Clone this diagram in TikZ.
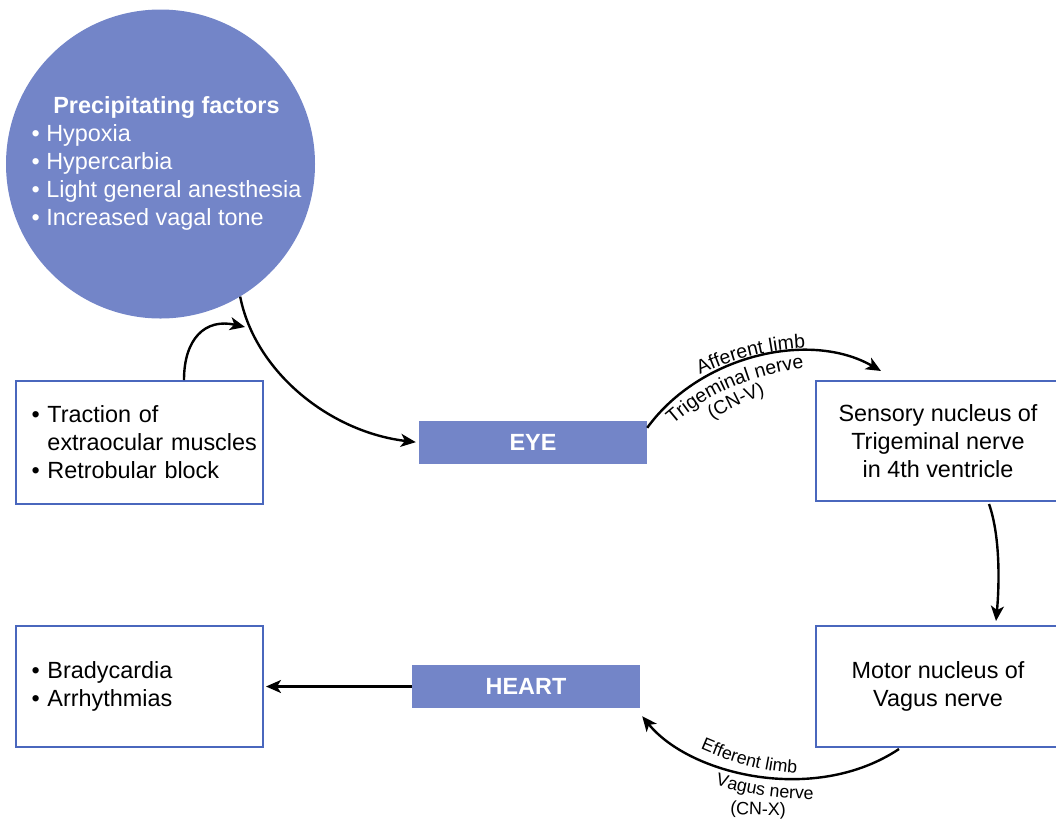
\documentclass[tikz,border=0pt]{standalone}
\usepackage{fontspec}
\setmainfont{Liberation Sans}
\usetikzlibrary{arrows.meta,decorations.text}
\definecolor{fillblue}{HTML}{7385C8}
\definecolor{lineblue}{HTML}{4A67BD}
\newcommand{\bodysize}{\fontsize{23.4}{28}\selectfont}
\begin{document}
\begin{tikzpicture}[x=1pt,y=-1pt,
  box/.style={draw=lineblue, line width=2pt, fill=white, inner sep=0pt,
    font=\bodysize, align=center},
  listbox/.style={box, minimum width=247pt, text width=216pt, align=left},
  organ/.style={fill=fillblue, minimum width=228pt, minimum height=43pt,
    inner sep=0pt, text=white, font=\bodysize\bfseries},
  arrow/.style={-{Stealth[length=15pt,width=13pt,inset=4pt]}, line width=2.4pt},
  % curved label set on its own baseline path: size, text
  limb/.style 2 args={decorate, decoration={text along path, text align=center,
    text={|\fontsize{#1}{#1}\selectfont|#2}}},
]
\useasboundingbox (0,0) rectangle (1056,820);
\clip (0,0) rectangle (1056,820);

% risk factors
\node[circle, fill=fillblue, minimum size=309pt, inner sep=-8pt, text=white,
  font=\bodysize] (pf) at (160.5,164)
  {\begin{tabular}{@{\hspace{12pt}}l@{}}
   \multicolumn{1}{@{\hspace{12pt}}c@{}}{\bfseries Precipitating factors}\\
   \textbullet\ Hypoxia\\
   \textbullet\ Hypercarbia\\
   \textbullet\ Light general anesthesia\\
   \textbullet\ Increased vagal tone
   \end{tabular}};

% triggers and effects
\node[listbox, minimum height=123pt] (trig) at (139.5,442.5)
  {\mbox{\textbullet\ Traction of}\\
   \mbox{\phantom{\textbullet\ }extraocular muscles}\\
   \mbox{\textbullet\ Retrobular block}};
\node[listbox, minimum height=121pt] (eff) at (139.5,686.5)
  {\mbox{\textbullet\ Bradycardia}\\
   \mbox{\textbullet\ Arrhythmias}};

% organs
\node[organ] (eye) at (533,442.5) {EYE};
\node[organ] (heart) at (526,686.5) {HEART};

% brainstem nuclei
\node[box, minimum width=244pt, minimum height=120pt] (sens) at (938,441)
  {Sensory nucleus of\\Trigeminal nerve\\in 4th ventricle};
\node[box, minimum width=244pt, minimum height=121pt] (mot) at (938,686.5)
  {Motor nucleus of\\Vagus nerve};

% connectors
\coordinate (trigend) at (245,327);
\draw[arrow] ([xshift=169pt]trig.north west)
  .. controls +(0,-41) and +(-40,-9) .. (trigend);
\draw[arrow, shorten >=3pt] (pf.-59)
  .. controls (255,372) and (330,432) .. (eye.west);

% afferent limb
\coordinate (aff0) at ([yshift=-7pt]eye.north east);
\coordinate (aff1) at ([xshift=66pt,yshift=9pt]sens.north west);
\draw[arrow] (aff0) .. controls (700,355) and (810,330) .. (aff1);
\path[limb={19.5}{Afferent limb}]
  (693,378) .. controls (725,362) and (765,349) .. (813,348);
\path[limb={19.5}{Trigeminal nerve}]
  (666,431) .. controls (700,400) and (740,375) .. (813,367);
\path[limb={19}{(CN-V)}]
  (707,423) .. controls (728,410) and (748,400) .. (771,392);

% nucleus to nucleus
\draw[arrow] ([xshift=174pt,yshift=-2pt]sens.south west)
  .. controls +(12,34) and +(3,-32) .. ([xshift=181pt,yshift=4pt]mot.north west);

% efferent limb
\coordinate (eff0) at ([xshift=2pt,yshift=-8pt]heart.south east);
\coordinate (eff1) at ([xshift=84pt,yshift=-1pt]mot.south west);
\draw[arrow] (eff1) .. controls (815,805) and (690,775) .. (eff0);
\path[limb={17.8}{Efferent limb}]
  (692,745) .. controls (728,762) and (765,773) .. (806,774);
\path[limb={17.8}{Vagus nerve}]
  (710,783) .. controls (742,794) and (780,800) .. (819,799);
\path[limb={18}{(CN-X)}]
  (720,813) .. controls (742,815) and (768,816) .. (796,815);

\draw[arrow, shorten >=2pt] (heart.west) -- (eff.east);
\end{tikzpicture}
\end{document}
